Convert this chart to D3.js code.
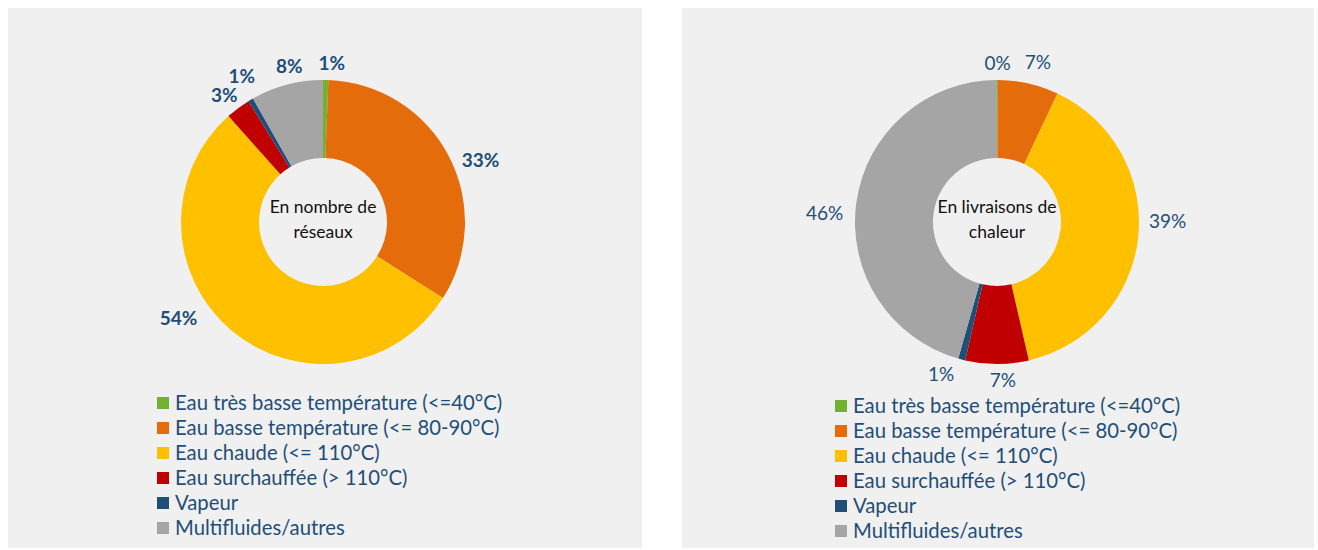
<!DOCTYPE html>
<html>
<head>
<meta charset="utf-8">
<script src="https://cdn.jsdelivr.net/npm/d3@7"></script>
<style>
  html, body { margin: 0; padding: 0; background: #ffffff; }
  svg { display: block; }
  text { font-family: Lato, "Open Sans", sans-serif; }
</style>
</head>
<body>
<svg id="chart" width="1318" height="550"></svg>
<script>
// ---- Data ----
const categories = [
  "Eau très basse température (<=40°C)",
  "Eau basse température (<= 80-90°C)",
  "Eau chaude (<= 110°C)",
  "Eau surchauffée (> 110°C)",
  "Vapeur",
  "Multifluides/autres"
];
const colors = ["#72B131", "#E46C0A", "#FFC000", "#C00000", "#1F4E79", "#A5A5A5"];
const reseauxValues    = [0.6, 33.4, 54.4, 2.8, 0.6, 8.2];   // % en nombre de réseaux
const livraisonsValues = [0.1, 6.9, 39.4, 7.2, 0.8, 45.6];   // % en livraisons de chaleur
const centerTitles = [["En nombre de", "réseaux"], ["En livraisons de", "chaleur"]];
const labelBold = [true, false];

// ---- Layout (label nudges: angle in degrees, radial px) ----
const labelAngleNudge = [[2, 5, 14, 0, 2.5, 3], [0, 1, -6.5, -2, 5, -5]];
const labelRadialNudge = [[0, 0, 7, 0, 7, 0], [0, 6, 0, 0, 3, 2]];
const panels = [
  { x: 8,   y: 8, w: 634, h: 540, cx: 323, cy: 222, legendX: 157, legendY: 403 },
  { x: 682, y: 8, w: 632, h: 540, cx: 997, cy: 222, legendX: 835, legendY: 406 }
];
const seriesList = [reseauxValues, livraisonsValues];
const outerR = 142, innerR = 64, labelGap = 10;
const textColor = "#1F4E79";

const svg = d3.select("#chart");
const pie = d3.pie().sort(null).value(d => d);
const arc = d3.arc().innerRadius(innerR).outerRadius(outerR);
const color = d3.scaleOrdinal().domain(categories).range(colors);

panels.forEach((p, i) => {
  svg.append("rect")
    .attr("x", p.x).attr("y", p.y).attr("width", p.w).attr("height", p.h)
    .attr("fill", "#F0F0F0");

  const g = svg.append("g").attr("transform", `translate(${p.cx},${p.cy})`);
  const arcs = pie(seriesList[i]);

  g.selectAll("path.slice").data(arcs).enter().append("path")
    .attr("class", "slice")
    .attr("d", arc)
    .attr("fill", (d, j) => color(categories[j]));

  // percentage labels (outside end)
  const labels = g.selectAll("text.lbl").data(arcs).enter().append("text")
    .attr("class", "lbl")
    .attr("text-anchor", "middle")
    .attr("font-size", 19)
    .attr("font-weight", labelBold[i] ? 700 : 400)
    .attr("fill", textColor)
    .text(d => Math.round(d.value) + "%");

  labels.each(function(d, j) {
    const w = this.getComputedTextLength();
    const h = 13;
    const a = (d.startAngle + d.endAngle) / 2 + labelAngleNudge[i][j] * Math.PI / 180;
    const s = Math.sin(a), c = Math.cos(a);
    const r = outerR + labelGap + labelRadialNudge[i][j];
    const x = r * s + s * w / 2;
    const y = -r * c - c * h / 2;
    d3.select(this).attr("x", x).attr("y", y).attr("dy", "0.35em");
  });

  // center title
  const ct = g.append("text")
    .attr("text-anchor", "middle")
    .attr("font-size", 17.5)
    .attr("fill", "#111111");
  centerTitles[i].forEach((line, k) => {
    ct.append("tspan").attr("x", 0).attr("y", -9 + k * 25).text(line);
  });

  // legend
  const lg = svg.append("g").attr("transform", `translate(${p.legendX},${p.legendY})`);
  const rows = lg.selectAll("g").data(categories).enter().append("g")
    .attr("transform", (d, k) => `translate(0,${k * 25})`);
  rows.append("rect")
    .attr("x", 0).attr("y", -6).attr("width", 12).attr("height", 12)
    .attr("fill", d => color(d));
  rows.append("text")
    .attr("x", 18).attr("y", 0).attr("dy", "0.36em")
    .attr("font-size", 20.3)
    .attr("fill", textColor)
    .text(d => d);
});
</script>
</body>
</html>
